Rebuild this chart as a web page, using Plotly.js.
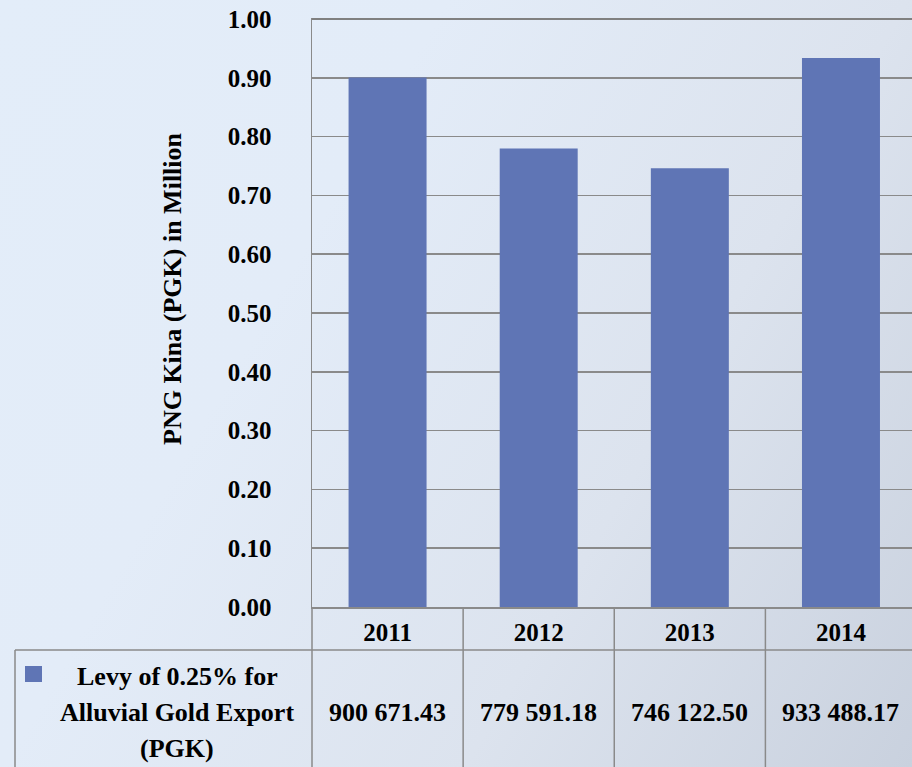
<!DOCTYPE html>
<html>
<head>
<meta charset="utf-8">
<script src="https://cdn.plot.ly/plotly-3.0.1.min.js"></script>
<style>
  html, body { margin: 0; padding: 0; }
  body {
    width: 912px; height: 767px; overflow: hidden;
    background: linear-gradient(120deg, #E3EDF9 0%, #E3ECF8 33%, #DCE3EE 67%, #C9D1DE 100%);
  }
  #chart { width: 912px; height: 767px; }
</style>
</head>
<body>
<div id="chart"></div>
<script>
// ---- data ----
const years = ['2011', '2012', '2013', '2014'];
const levyPGK = [900671.43, 779591.18, 746122.50, 933488.17];
const seriesNameLines = ['Levy of 0.25% for', 'Alluvial Gold Export', '(PGK)'];
const yTickVals = [0, 0.1, 0.2, 0.3, 0.4, 0.5, 0.6, 0.7, 0.8, 0.9, 1.0];
const yTitle = 'PNG Kina (PGK) in Million';

// ---- helpers ----
function fmtSpace(v) {
  const parts = v.toFixed(2).split('.');
  return parts[0].replace(/\B(?=(\d{3})+(?!\d))/g, ' ') + '.' + parts[1];
}
const levyMillion = levyPGK.map(v => v / 1e6);

const W = 912, H = 767;
const M = { l: 312, r: 0, t: 19, b: 160 };
const plotW = W - M.l - M.r, plotH = H - M.t - M.b;
const xRange = [-0.5, 3.47];
const xp = px => (px - M.l) / plotW;            // pixel -> paper x
const yp = py => (H - M.b - py) / plotH;         // pixel -> paper y
const cp = c => (c - xRange[0]) / (xRange[1] - xRange[0]); // category index -> paper x

const FONT = 'Liberation Serif, Times New Roman, serif';
const lineColor = '#8a8a8a';
const barColor = '#5F75B5';

const bottomY = yp(H + 5);
const rowY = yp(650);

const shapes = [];
// top border line at 1.00
shapes.push({ type: 'line', xref: 'paper', yref: 'paper', x0: 0, x1: 1, y0: 1, y1: 1,
  line: { color: '#808080', width: 2 }, layer: 'above' });
// left axis continuation and category separators in data table
[-0.5, 0.5, 1.5, 2.5].forEach(c => {
  shapes.push({ type: 'line', xref: 'paper', yref: 'paper', x0: cp(c), x1: cp(c), y0: 0, y1: bottomY,
    line: { color: lineColor, width: 1.5 } });
});
// horizontal row separator
shapes.push({ type: 'line', xref: 'paper', yref: 'paper', x0: xp(15), x1: 1.01, y0: rowY, y1: rowY,
  line: { color: lineColor, width: 1.5 } });
// legend cell left border
shapes.push({ type: 'line', xref: 'paper', yref: 'paper', x0: xp(15), x1: xp(15), y0: rowY, y1: bottomY,
  line: { color: lineColor, width: 1.5 } });
// legend key
shapes.push({ type: 'rect', xref: 'paper', yref: 'paper', x0: xp(25), x1: xp(42), y0: yp(666), y1: yp(682),
  fillcolor: barColor, line: { width: 0 } });

const txtFont = { family: FONT, size: 26, color: '#000', weight: 700 };
const annotations = [];
levyPGK.forEach((v, i) => {
  annotations.push({ xref: 'paper', yref: 'paper', x: cp(i), y: yp(712), text: fmtSpace(v),
    showarrow: false, xanchor: 'center', yanchor: 'middle', font: txtFont });
});
const legendLineY = [676, 712, 748];
seriesNameLines.forEach((t, i) => {
  annotations.push({ xref: 'paper', yref: 'paper', x: xp(177), y: yp(legendLineY[i]), text: t,
    showarrow: false, xanchor: 'center', yanchor: 'middle', font: txtFont });
});
// y-axis title (positioned as in the reference)
annotations.push({ xref: 'paper', yref: 'paper', x: xp(172), y: yp(289), text: yTitle, textangle: -90,
  showarrow: false, xanchor: 'center', yanchor: 'middle',
  font: { family: FONT, size: 26, color: '#000', weight: 700 } });

const trace = {
  type: 'bar',
  x: years,
  y: levyMillion,
  marker: { color: barColor, line: { width: 0 } },
  hoverinfo: 'x+y'
};

const layout = {
  width: W, height: H,
  margin: { l: M.l, r: M.r, t: M.t, b: M.b, pad: 0 },
  paper_bgcolor: 'rgba(0,0,0,0)',
  plot_bgcolor: 'rgba(0,0,0,0)',
  showlegend: false,
  bargap: 0.484,
  font: { family: FONT, color: '#000' },
  xaxis: {
    type: 'category',
    range: xRange,
    showgrid: false,
    showline: true, mirror: true, linecolor: lineColor, linewidth: 1.5,
    ticks: '',
    ticklabelstandoff: 2,
    tickfont: { family: FONT, size: 25, color: '#000', weight: 700 },
    fixedrange: true
  },
  yaxis: {
    range: [0, 1],
    tickvals: yTickVals,
    tickformat: '.2f',
    showgrid: true, gridcolor: lineColor, gridwidth: 1.5,
    zeroline: false,
    showline: true, linecolor: lineColor, linewidth: 1.5,
    ticks: '',
    ticklabelstandoff: 34,
    tickfont: { family: FONT, size: 25, color: '#000', weight: 700 },
    fixedrange: true
  },
  shapes: shapes,
  annotations: annotations
};

Plotly.newPlot('chart', [trace], layout, { displayModeBar: false, staticPlot: true });
</script>
</body>
</html>
